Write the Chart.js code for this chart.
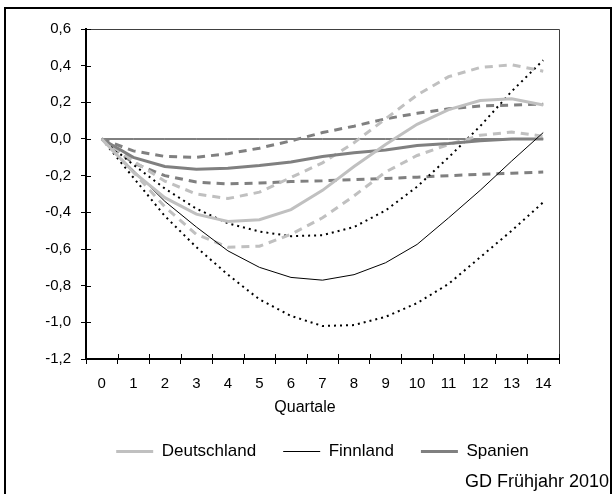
<!DOCTYPE html>
<html>
<head>
<meta charset="utf-8">
<script src="https://cdn.jsdelivr.net/npm/chart.js@4/dist/chart.umd.min.js"></script>
<style>
  body { margin: 0; background: #fff; }
  canvas { display: block; }
</style>
</head>
<body>
<canvas id="myChart" width="614" height="494"></canvas>
<script>
// Quartale nach dem Schock
const quartale = ["0","1","2","3","4","5","6","7","8","9","10","11","12","13","14"];

const deutschland      = [0, -0.18, -0.32, -0.41, -0.45, -0.44, -0.385, -0.28, -0.15, -0.03, 0.08, 0.16, 0.21, 0.22, 0.185];
const deutschlandOben  = [0, -0.12, -0.23, -0.30, -0.325, -0.29, -0.21, -0.13, -0.02, 0.11, 0.24, 0.34, 0.39, 0.405, 0.37];
const deutschlandUnten = [0, -0.18, -0.37, -0.52, -0.59, -0.585, -0.52, -0.43, -0.31, -0.18, -0.09, -0.03, 0.02, 0.038, 0.015];

const finnland      = [0, -0.17, -0.34, -0.48, -0.61, -0.70, -0.755, -0.77, -0.74, -0.675, -0.575, -0.43, -0.28, -0.12, 0.035];
const finnlandOben  = [0, -0.14, -0.27, -0.38, -0.46, -0.505, -0.53, -0.525, -0.48, -0.39, -0.26, -0.10, 0.07, 0.26, 0.43];
const finnlandUnten = [0, -0.21, -0.42, -0.59, -0.74, -0.875, -0.965, -1.02, -1.015, -0.97, -0.895, -0.79, -0.645, -0.50, -0.345];

const spanien      = [0, -0.10, -0.15, -0.165, -0.16, -0.145, -0.125, -0.095, -0.075, -0.06, -0.035, -0.025, -0.01, 0.0, 0.0];
const spanienOben  = [0, -0.065, -0.095, -0.10, -0.08, -0.05, -0.01, 0.035, 0.07, 0.11, 0.14, 0.165, 0.18, 0.185, 0.19];
const spanienUnten = [0, -0.13, -0.20, -0.235, -0.245, -0.24, -0.232, -0.228, -0.222, -0.215, -0.208, -0.2, -0.193, -0.187, -0.18];

const nullLinie = [0, 0, 0, 0, 0, 0, 0, 0, 0, 0, 0, 0, 0, 0, 0];

const achsenTitel = "Quartale";
const quelle = "GD Frühjahr 2010";

const schrift = "'Liberation Sans', Arial, sans-serif";
const hellgrau = "#c0c0c0";
const dunkelgrau = "#808080";

Chart.defaults.font.family = schrift;
Chart.defaults.color = "#000";

function linie(label, data, color, width, dash) {
    return {
        label: label,
        data: data,
        borderColor: color,
        backgroundColor: color,
        borderWidth: width,
        borderDash: dash || [],
        pointRadius: 0,
        tension: 0,
        fill: false
    };
}

// Rahmen, Kreuz-Ticks und Zusatztexte
const rahmenPlugin = {
    id: "rahmen",
    beforeDraw(chart) {
        const ctx = chart.ctx;
        ctx.save();
        ctx.fillStyle = "#fff";
        ctx.fillRect(0, 0, chart.width, chart.height);
        ctx.strokeStyle = "#000";
        ctx.lineWidth = 2;
        ctx.strokeRect(5, 8, 606, 520);
        ctx.restore();
    },
    afterDraw(chart) {
        const ctx = chart.ctx;
        const a = chart.chartArea;
        const x = chart.scales.x;
        const y = chart.scales.y;
        ctx.save();
        ctx.strokeStyle = "#404040";
        ctx.lineWidth = 1;
        ctx.beginPath();
        ctx.moveTo(a.left, Math.round(a.top) + 0.5);
        ctx.lineTo(Math.round(a.right) + 0.5, Math.round(a.top) + 0.5);
        ctx.lineTo(Math.round(a.right) + 0.5, a.bottom);
        ctx.stroke();

        ctx.strokeStyle = "#000";
        ctx.beginPath();
        y.ticks.forEach((t, i) => {
            const py = Math.round(y.getPixelForTick(i)) + 0.5;
            ctx.moveTo(a.left, py);
            ctx.lineTo(a.left + 5, py);
        });
        const half = (x.getPixelForValue(1) - x.getPixelForValue(0)) / 2;
        for (let i = 0; i <= quartale.length; i++) {
            const px = Math.round(x.getPixelForValue(i) - half) + 0.5;
            ctx.moveTo(px, a.bottom);
            ctx.lineTo(px, a.bottom - 5);
        }
        ctx.stroke();

        ctx.fillStyle = "#000";
        ctx.textBaseline = "middle";
        ctx.textAlign = "center";
        ctx.font = "16px " + schrift;
        ctx.fillText(achsenTitel, 305, 408);
        ctx.textAlign = "right";
        ctx.font = "18px " + schrift;
        ctx.fillText(quelle, 609, 482);
        ctx.restore();
    }
};

const config = {
    type: "line",
    data: {
        labels: quartale,
        datasets: [
            linie("Deutschland", deutschland, hellgrau, 3),
            linie("Finnland", finnland, "#000", 1),
            linie("Spanien", spanien, dunkelgrau, 3),
            linie("Deutschland oben", deutschlandOben, hellgrau, 3, [8, 6]),
            linie("Deutschland unten", deutschlandUnten, hellgrau, 3, [8, 6]),
            linie("Finnland oben", finnlandOben, "#000", 2, [2, 4]),
            linie("Finnland unten", finnlandUnten, "#000", 2, [2, 4]),
            linie("Spanien oben", spanienOben, dunkelgrau, 3, [8, 6]),
            linie("Spanien unten", spanienUnten, dunkelgrau, 3, [8, 6]),
            linie("Null", nullLinie, "#000", 1)
        ]
    },
    options: {
        responsive: false,
        animation: false,
        devicePixelRatio: 1,
        layout: { padding: { top: 29, right: 55, bottom: 24, left: 0 } },
        scales: {
            x: {
                offset: true,
                grid: { offset: true, drawOnChartArea: false, tickLength: 5, color: "#000" },
                border: { color: "#000", width: 2 },
                ticks: { padding: 11, color: "#000", font: { size: 15 }, maxRotation: 0 },
                afterFit: (scale) => { scale.height = 57; }
            },
            y: {
                min: -1.2,
                max: 0.6,
                grid: { drawOnChartArea: false, tickLength: 5, color: "#000" },
                border: { color: "#000", width: 2 },
                ticks: {
                    stepSize: 0.2,
                    padding: 10,
                    color: "#000",
                    font: { size: 15 },
                    callback: (v) => {
                        let r = Math.round(v * 10) / 10;
                        if (r === 0) r = 0;
                        return r.toFixed(1).replace(".", ",");
                    }
                },
                afterFit: (scale) => { scale.width = 86; }
            }
        },
        plugins: {
            legend: {
                position: "bottom",
                fullSize: false,
                labels: {
                    usePointStyle: true,
                    pointStyle: "line",
                    pointStyleWidth: 37,
                    padding: 27,
                    color: "#000",
                    font: { size: 17 },
                    filter: (item) => item.datasetIndex < 3
                }
            },
            tooltip: { enabled: false }
        }
    },
    plugins: [rahmenPlugin]
};

const chart = new Chart(document.getElementById("myChart"), config);
</script>
</body>
</html>
